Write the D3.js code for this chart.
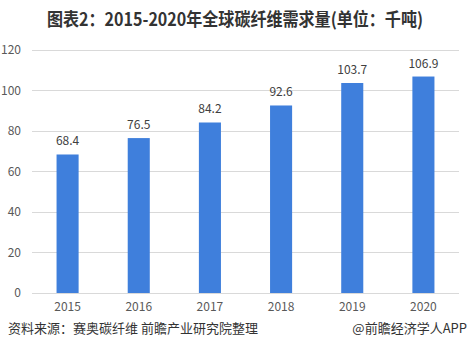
<!DOCTYPE html>
<html><head><meta charset="utf-8">
<script src="https://cdn.jsdelivr.net/npm/d3@7"></script>
<style>body{margin:0;background:#fff;}svg{display:block;}</style>
</head><body>
<svg id="c" width="471" height="358"></svg>
<script>
const categories = ["2015","2016","2017","2018","2019","2020"];
const values = [68.4, 76.5, 84.2, 92.6, 103.7, 106.9];
const yTicks = [0, 20, 40, 60, 80, 100, 120];
const title = "图表2：2015-2020年全球碳纤维需求量(单位：千吨)";
const source = "资料来源：赛奥碳纤维 前瞻产业研究院整理";
const credit = "@前瞻经济学人APP";

(function () {
const svg = d3.select("#c");
const font = "'Microsoft YaHei','Noto Sans CJK SC','Noto Sans',sans-serif";
const mL = 32, mR = 459, mT = 50, mB = 293;
const x = d3.scaleBand().domain(categories).range([mL, mR]).paddingInner(0.69).paddingOuter(0.345);
const y = d3.scaleLinear().domain([0, 120]).range([mB, mT]);

svg.append("text").attr("x", 235).attr("y", 26).attr("text-anchor", "middle")
  .attr("font-family", font).attr("font-weight", "bold").attr("font-size", 18).attr("fill", "#333")
  .attr("textLength", 376).attr("lengthAdjust", "spacingAndGlyphs")
  .text(title);

svg.append("g").selectAll("line").data(yTicks).join("line")
  .attr("x1", mL).attr("x2", mR).attr("y1", d => y(d)).attr("y2", d => y(d))
  .attr("stroke", "#d9d9d9").attr("stroke-width", 1).attr("shape-rendering", "crispEdges");

const yAxis = svg.append("g").attr("transform", `translate(${mL},0)`)
  .call(d3.axisLeft(y).tickValues(yTicks).tickSize(0).tickPadding(11));
yAxis.select(".domain").remove();
yAxis.selectAll("text").attr("font-family", font).attr("font-size", 12).attr("fill", "#595959");

const xAxis = svg.append("g").attr("transform", `translate(0,${mB})`)
  .call(d3.axisBottom(x).tickSize(0).tickPadding(9));
xAxis.select(".domain").remove();
xAxis.selectAll("text").attr("font-family", font).attr("font-size", 12).attr("fill", "#595959");

svg.append("g").selectAll("rect").data(values).join("rect")
  .attr("x", (d, i) => x(categories[i])).attr("width", x.bandwidth())
  .attr("y", d => y(d)).attr("height", d => mB - y(d))
  .attr("fill", "#3f7fdc");

svg.append("g").selectAll("text").data(values).join("text")
  .attr("x", (d, i) => x(categories[i]) + x.bandwidth() / 2)
  .attr("y", d => y(d) - 9).attr("text-anchor", "middle")
  .attr("font-family", font).attr("font-size", 12).attr("fill", "#404040")
  .text(d => d.toFixed(1));

svg.append("text").attr("x", 8).attr("y", 333)
  .attr("font-family", font).attr("font-size", 13).attr("fill", "#333").text(source);
svg.append("text").attr("x", 467).attr("y", 333).attr("text-anchor", "end")
  .attr("font-family", font).attr("font-size", 13).attr("fill", "#333").text(credit);
})();
</script>
</body></html>
